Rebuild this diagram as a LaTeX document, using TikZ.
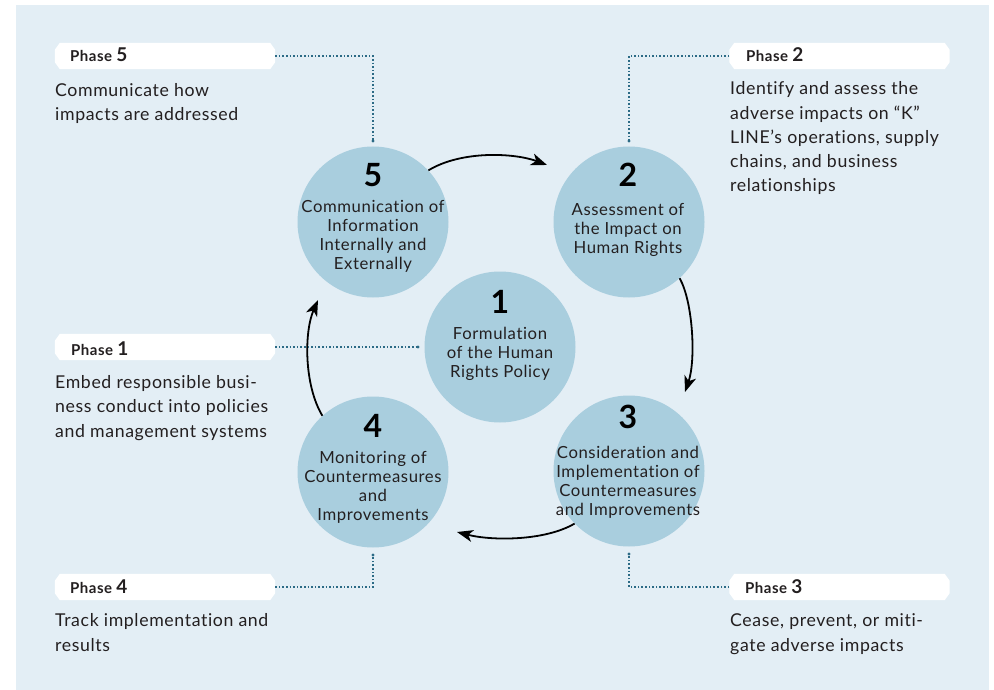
\documentclass[tikz,border=0pt]{standalone}
\usepackage{fontspec}
\setmainfont{Lato}[LetterSpace=3.5,Ligatures={NoCommon}]
\usetikzlibrary{arrows.meta}
\definecolor{bgblue}{HTML}{E3EEF5}
\definecolor{circfill}{HTML}{A9CEDE}
\definecolor{dotc}{HTML}{2B6A85}
\definecolor{txt}{HTML}{231F20}
\newcommand\chbox[1]{\fill[white] ([xshift=5pt]#1.north west) -- ([xshift=-5pt]#1.north east)
  -- ([yshift=-7pt]#1.north east) -- ([yshift=7pt]#1.south east) -- ([xshift=-5pt]#1.south east)
  -- ([xshift=5pt]#1.south west) -- ([yshift=7pt]#1.south west) -- ([yshift=-7pt]#1.north west) -- cycle;}
\begin{document}
\begin{tikzpicture}[x=1pt,y=-1pt,
  phasebox/.style={rectangle, draw=none, minimum width=220pt, minimum height=26pt, inner sep=0pt},
  phaselabel/.style={inner sep=0pt, text=txt, font={\fontsize{15}{16}\selectfont\bfseries}},
  desc/.style={inner sep=0pt, align=left, text=txt, font={\fontsize{17.7}{24.3}\selectfont}},
  stage/.style={circle, fill=circfill, draw=none, minimum size=151pt, inner sep=0pt},
  num/.style={inner sep=0pt, text=black, font={\fontsize{32}{34}\selectfont\bfseries}},
  ctext/.style={inner sep=0pt, align=center, text=txt, font={\fontsize{16.7}{18.7}\selectfont}},
  arr/.style={line width=1.8pt, black, -{Stealth[length=16pt,width=12pt,inset=4.5pt]}},
  dotline/.style={dotc, line width=1.1pt, dash pattern=on 1.6pt off 2pt, -{Circle[length=2.6pt]}}
]
\useasboundingbox (0,0) rectangle (994,690);
\fill[bgblue] (16,5) rectangle (989,690);

% stage circles
\node[stage] (c5) at (373,222) {};
\node[stage] (c2) at (629,222) {};
\node[stage] (c1) at (500,347) {};
\node[stage] (c4) at (373,472) {};
\node[stage] (c3) at (629,471) {};

% numbers
\node[num, anchor=base] (n5) at (373,187) {5};
\node[num, anchor=base] (n2) at (628,187) {2};
\node[num, anchor=base] (n1) at (500,313) {1};
\node[num, anchor=base] (n4) at (373,437) {4};
\node[num, anchor=base] (n3) at (628,428) {3};

% circle texts (base = last line)
\node[ctext, anchor=base] (t5) at (373,269) {Communication of\\Information\\Internally and\\Externally};
\node[ctext, anchor=base] (t2) at (628,253) {Assessment of\\the Impact on\\Human Rights};
\node[ctext, anchor=base] (t1) at (500,377) {Formulation\\of the Human\\Rights Policy};
\node[ctext, anchor=base] (t4) at (373,520) {Monitoring of\\Countermeasures\\and\\Improvements};
\node[ctext, anchor=base] (t3) at (628,515) {Consideration and\\Implementation of\\Countermeasures\\and Improvements};

% arrow end points
\coordinate (e2) at (547,165);
\coordinate (e3) at (685,392);
\coordinate (e4) at (457,532);
\coordinate (e5) at (318,300);

\draw[arr] (c5.43) .. controls (462,150) and (515,153) .. (e2);
\draw[arr] (c2.-48) .. controls (693,302) and (696,360) .. (e3);
\draw[arr] (c3.224) .. controls (545,541) and (492,541) .. (e4);
\draw[arr] (c4.132) .. controls (304,385) and (304,332) .. (e5);

% phase boxes
\node[phasebox] (p5) at (165,56) {};
\node[phasebox] (p2) at (839.5,56) {};
\node[phasebox] (p1) at (165,347) {};
\node[phasebox] (p4) at (165,587) {};
\node[phasebox] (p3) at (839.5,587) {};
\chbox{p5}\chbox{p2}\chbox{p1}\chbox{p4}\chbox{p3}

\node[phaselabel, anchor=base west] (l5) at (70,62) {Phase \fontsize{19}{19}\selectfont 5};
\node[phaselabel, anchor=base west] (l2) at (746,62) {Phase \fontsize{19}{19}\selectfont 2};
\node[phaselabel, anchor=base west] (l1) at (71,355) {Phase \fontsize{19}{19}\selectfont 1};
\node[phaselabel, anchor=base west] (l4) at (70,593) {Phase \fontsize{19}{19}\selectfont 4};
\node[phaselabel, anchor=base west] (l3) at (745,593) {Phase \fontsize{19}{19}\selectfont 3};

% descriptions (base = last line)
\node[desc, anchor=base west] (d5) at (55,121) {Communicate how\\impacts are addressed};
\node[desc, anchor=base west] (d2) at (730,192) {Identify and assess the\\adverse impacts on ``K''\\LINE’s operations, supply\\chains, and business\\relationships};
\node[desc, anchor=base west] (d1) at (55,437) {Embed responsible busi-\\ness conduct into policies\\and management systems};
\node[desc, anchor=base west] (d4) at (55,651) {Track implementation and\\results};
\node[desc, anchor=base west] (d3) at (730,651) {Cease, prevent, or miti-\\gate adverse impacts};

% dotted connectors
\draw[dotline] (p5.east) -| ([yshift=4pt]c5.north);
\draw[dotline] (p2.west) -| ([yshift=4pt]c2.north);
\draw[dotline] (p1.east) -- ([xshift=-5pt]c1.west);
\draw[dotline] (p4.east) -| ([yshift=-6pt]c4.south);
\draw[dotline] (p3.west) -| ([yshift=-6pt]c3.south);
\end{tikzpicture}
\end{document}
